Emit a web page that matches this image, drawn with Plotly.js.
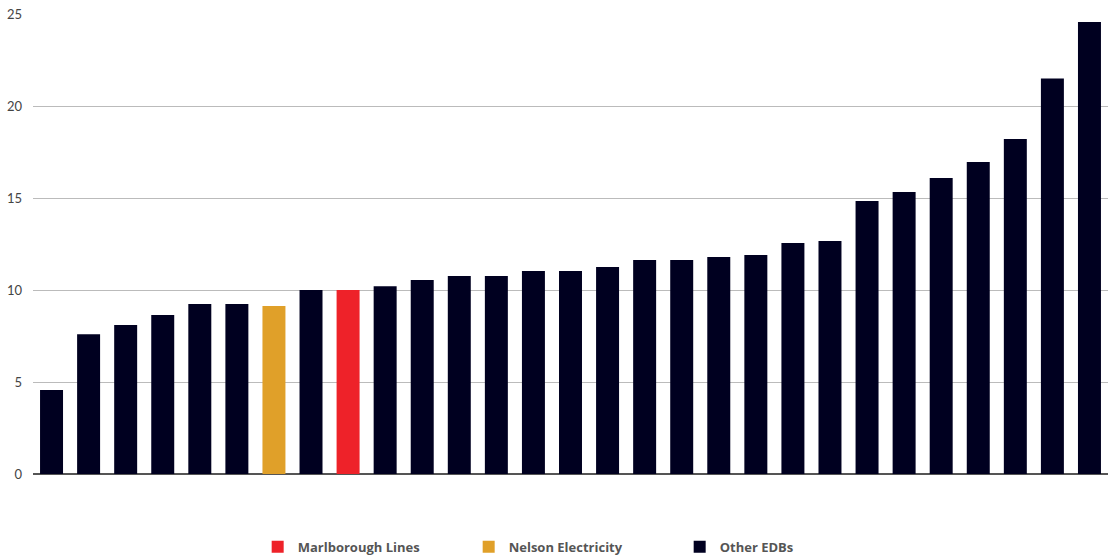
<!DOCTYPE html>
<html>
<head>
<meta charset="utf-8">
<script src="https://cdn.plot.ly/plotly-3.0.1.min.js"></script>
<style>html,body{margin:0;padding:0;background:#fff;}#chart{width:1108px;height:555px;}</style>
</head>
<body>
<div id="chart"></div>
<script>
const categories = ["EDB 1","EDB 2","EDB 3","EDB 4","EDB 5","EDB 6","Nelson Electricity","EDB 8","Marlborough Lines","EDB 10","EDB 11","EDB 12","EDB 13","EDB 14","EDB 15","EDB 16","EDB 17","EDB 18","EDB 19","EDB 20","EDB 21","EDB 22","EDB 23","EDB 24","EDB 25","EDB 26","EDB 27","EDB 28","EDB 29"];
const values = [4.57,7.6,8.1,8.64,9.24,9.24,9.13,10.0,10.0,10.2,10.54,10.76,10.76,11.03,11.03,11.25,11.63,11.63,11.8,11.9,12.55,12.66,14.84,15.33,16.09,16.96,18.2,21.5,24.57];
const groups = ["Other EDBs","Other EDBs","Other EDBs","Other EDBs","Other EDBs","Other EDBs","Nelson Electricity","Other EDBs","Marlborough Lines","Other EDBs","Other EDBs","Other EDBs","Other EDBs","Other EDBs","Other EDBs","Other EDBs","Other EDBs","Other EDBs","Other EDBs","Other EDBs","Other EDBs","Other EDBs","Other EDBs","Other EDBs","Other EDBs","Other EDBs","Other EDBs","Other EDBs","Other EDBs"];
const seriesNames = ["Marlborough Lines","Nelson Electricity","Other EDBs"];
const seriesColors = ["#ee2229","#e0a029","#000020"];
const yTicks = [0,5,10,15,20,25];

const traces = seriesNames.map((name, k) => {
  const xs = [], ys = [];
  categories.forEach((c, i) => { if (groups[i] === name) { xs.push(c); ys.push(values[i]); } });
  return {type:"bar", name:name, x:xs, y:ys, marker:{color:seriesColors[k]}, hoverinfo:"x+y"};
});

const layout = {
  width:1108, height:555,
  margin:{l:33, r:0, t:14, b:81, autoexpand:false},
  paper_bgcolor:"#fff", plot_bgcolor:"#fff",
  barmode:"overlay", bargap:0.38,
  font:{family:"Lato, 'Open Sans', sans-serif", color:"#444"},
  xaxis:{type:"category", categoryorder:"array", categoryarray:categories, showticklabels:false, showgrid:false, zeroline:false, showline:false, ticks:""},
  yaxis:{range:[0,25], tickvals:yTicks, ticktext:yTicks.map(String), showgrid:true, gridcolor:"#bbbbbb", gridwidth:1, zeroline:true, zerolinecolor:"#555", zerolinewidth:2, showline:false, ticks:"", ticklabelstandoff:10, tickfont:{size:13, color:"#444", family:"Lato, sans-serif"}},
  showlegend:true,
  legend:{orientation:"h", xref:"paper", x:0.209, xanchor:"left", yref:"container", y:0.042, yanchor:"top", font:{size:13, color:"#555", family:"'Open Sans', sans-serif", weight:"bold"}, entrywidth:166, traceorder:"normal", itemwidth:20}
};
Plotly.newPlot("chart", traces, layout, {displayModeBar:false, staticPlot:true});
</script>
</body>
</html>
